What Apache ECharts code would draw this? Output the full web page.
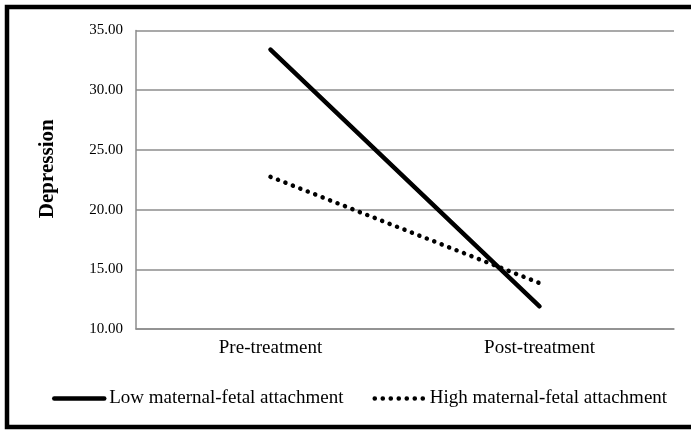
<!DOCTYPE html>
<html>
<head>
<meta charset="utf-8">
<script src="https://cdn.jsdelivr.net/npm/echarts@6/dist/echarts.min.js"></script>
<style>
html,body{margin:0;padding:0;background:#fff;overflow:hidden;}
#chart{width:691px;height:430px;}
</style>
</head>
<body>
<div id="chart"></div>
<script>
const categories = ['Pre-treatment', 'Post-treatment'];
const lowAttachment = [33.4, 11.9];
const highAttachment = [22.75, 13.85];
const seriesNames = ['Low maternal-fetal attachment', 'High maternal-fetal attachment'];
const yTitle = 'Depression';

const FONT = "'Liberation Serif', 'Times New Roman', serif";
const chart = echarts.init(document.getElementById('chart'), null, {renderer: 'canvas'});
chart.setOption({
  animation: false,
  backgroundColor: '#fff',
  textStyle: {fontFamily: FONT, color: '#000'},
  graphic: [{
    type: 'rect',
    shape: {x: 7, y: 7, width: 1000, height: 420},
    style: {fill: 'none', stroke: '#000', lineWidth: 4.5},
    silent: true,
    z: 100
  }],
  grid: {left: 136, right: 17, top: 30.5, bottom: 101, containLabel: false},
  legend: {
    left: 52,
    top: 389,
    padding: 0,
    itemWidth: 50,
    itemHeight: 14,
    itemGap: 29,
    itemStyle: {opacity: 0},
    lineStyle: {width: 'inherit', type: 'inherit', cap: 'round'},
    textStyle: {fontFamily: FONT, fontSize: 19, color: '#000'},
    data: seriesNames
  },
  xAxis: {
    type: 'category',
    data: categories,
    boundaryGap: true,
    axisLine: {show: true, lineStyle: {color: '#8c8c8c', width: 1.5}},
    axisTick: {show: false},
    axisLabel: {fontFamily: FONT, fontSize: 19, color: '#000', margin: 10}
  },
  yAxis: {
    type: 'value',
    min: 10,
    max: 35,
    interval: 5,
    name: yTitle,
    nameLocation: 'middle',
    nameGap: 78,
    nameRotate: 90,
    nameTextStyle: {fontFamily: FONT, fontSize: 21, fontWeight: 'bold', color: '#000', padding: [0, 0, 0, 22]},
    axisLine: {show: true, lineStyle: {color: '#8c8c8c', width: 1.5}},
    axisTick: {show: false},
    splitLine: {show: true, lineStyle: {color: '#8c8c8c', width: 1.5}},
    axisLabel: {fontFamily: FONT, fontSize: 15, color: '#000', margin: 13, formatter: v => v.toFixed(2)}
  },
  series: [
    {
      name: seriesNames[0],
      type: 'line',
      data: lowAttachment,
      symbol: 'none',
      lineStyle: {color: '#000', width: 4.5, cap: 'round'},
      itemStyle: {color: '#000'}
    },
    {
      name: seriesNames[1],
      type: 'line',
      data: highAttachment,
      symbol: 'none',
      lineStyle: {color: '#000', width: 4.5, type: [0.1, 7.9], cap: 'round'},
      itemStyle: {color: '#000'}
    }
  ]
});
</script>
</body>
</html>
